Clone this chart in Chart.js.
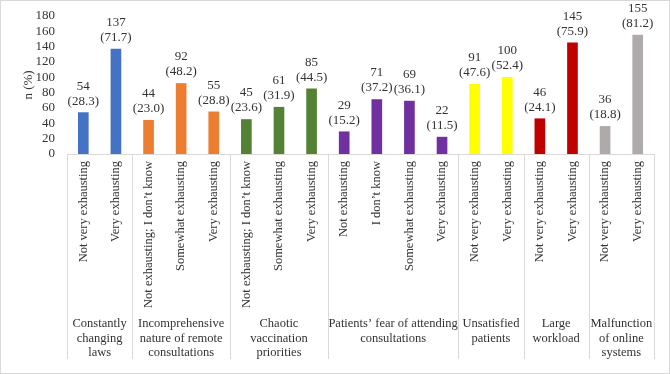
<!DOCTYPE html>
<html lang="en">
<head>
  <meta charset="utf-8">
  <title>Exhausting factors</title>
  <script src="https://cdn.jsdelivr.net/npm/chart.js@4/dist/chart.umd.min.js"></script>
  <style>
    html, body { margin: 0; padding: 0; background: #fff; }
    #wrap { position: relative; width: 670px; height: 374px; box-sizing: border-box; border: 1px solid #d9d9d9; }
  </style>
</head>
<body>
  <div id="wrap"><canvas id="mychart" width="668" height="372"></canvas></div>

  <script>
    // data
    var answers = [
      'Not very exhausting', 'Very exhausting',
      'Not exhausting; I don\u2019t know', 'Somewhat exhausting', 'Very exhausting',
      'Not exhausting; I don\u2019t know', 'Somewhat exhausting', 'Very exhausting',
      'Not exhausting', 'I don\u2019t know', 'Somewhat exhausting', 'Very exhausting',
      'Not very exhausting', 'Very exhausting',
      'Not very exhausting', 'Very exhausting',
      'Not very exhausting', 'Very exhausting'
    ];
    var counts = [54, 137, 44, 92, 55, 45, 61, 85, 29, 71, 69, 22, 91, 100, 46, 145, 36, 155];
    var percents = ['28.3', '71.7', '23.0', '48.2', '28.8', '23.6', '31.9', '44.5', '15.2', '37.2', '36.1', '11.5', '47.6', '52.4', '24.1', '75.9', '18.8', '81.2'];
    var groups = [
      ['Constantly', 'changing', 'laws'],
      ['Incomprehensive', 'nature of remote', 'consultations'],
      ['Chaotic', 'vaccination', 'priorities'],
      ['Patients\u2019 fear of attending', 'consultations'],
      ['Unsatisfied', 'patients'],
      ['Large', 'workload'],
      ['Malfunction', 'of online', 'systems']
    ];
    var groupSizes = [2, 3, 3, 4, 2, 2, 2];
    var groupColors = ['#4472C4', '#ED7D31', '#548235', '#7030A0', '#FFFF00', '#C00000', '#AEAAAA'];
    var yTicks = [0, 20, 40, 60, 80, 100, 120, 140, 160, 180];

    var serif = '"Liberation Serif", "Times New Roman", serif';
    var textColor = '#333333';
    var fs = 12.5;

    var barColors = [];
    groupSizes.forEach(function (n, g) {
      for (var k = 0; k < n; k++) barColors.push(groupColors[g]);
    });

    // value labels above each bar
    var valueLabels = {
      id: 'valueLabels',
      afterDatasetsDraw: function (chart) {
        var ctx = chart.ctx;
        var meta = chart.getDatasetMeta(0);
        ctx.save();
        ctx.font = '13px ' + serif;
        ctx.fillStyle = textColor;
        ctx.textAlign = 'center';
        ctx.textBaseline = 'bottom';
        meta.data.forEach(function (bar, i) {
          ctx.fillText('(' + percents[i] + ')', bar.x, bar.y - 5);
          ctx.fillText(String(counts[i]), bar.x, bar.y - 20);
        });
        ctx.restore();
      }
    };

    // group separators and group names under the axis
    var groupAxis = {
      id: 'groupAxis',
      afterDraw: function (chart) {
        var ctx = chart.ctx;
        var x = chart.scales.x;
        var area = chart.chartArea;
        var half = (x.getPixelForValue(1) - x.getPixelForValue(0)) / 2;
        ctx.save();
        ctx.strokeStyle = '#d9d9d9';
        ctx.lineWidth = 1;
        // axis line
        ctx.beginPath();
        ctx.moveTo(area.left, area.bottom + 0.5);
        ctx.lineTo(area.right, area.bottom + 0.5);
        ctx.stroke();

        ctx.font = fs + 'px ' + serif;
        ctx.fillStyle = textColor;
        ctx.textAlign = 'center';
        ctx.textBaseline = 'middle';
        var start = 0;
        groupSizes.forEach(function (n, g) {
          var left = x.getPixelForValue(start) - half;
          var right = x.getPixelForValue(start + n - 1) + half;
          ctx.beginPath();
          ctx.moveTo(Math.round(left) + 0.5, area.bottom);
          ctx.lineTo(Math.round(left) + 0.5, 358);
          ctx.stroke();
          if (g === groupSizes.length - 1) {
            ctx.beginPath();
            ctx.moveTo(Math.round(right) + 0.5, area.bottom);
            ctx.lineTo(Math.round(right) + 0.5, 358);
            ctx.stroke();
          }
          var cx = (left + right) / 2;
          groups[g].forEach(function (line, j) {
            ctx.fillText(line, cx, 323 + j * 14.5);
          });
          start += n;
        });
        ctx.restore();
      }
    };

    var ctx = document.getElementById('mychart').getContext('2d');
    var chart = new Chart(ctx, {
      type: 'bar',
      data: {
        labels: answers,
        datasets: [{
          data: counts,
          backgroundColor: barColors,
          barThickness: 10
        }]
      },
      options: {
        responsive: false,
        animation: false,
        layout: { padding: { top: 15, right: 15, bottom: 0, left: 0 } },
        plugins: {
          legend: { display: false },
          tooltip: { enabled: false }
        },
        scales: {
          x: {
            grid: { display: false, drawTicks: false },
            border: { display: false },
            ticks: {
              autoSkip: false,
              minRotation: 90,
              maxRotation: 90,
              padding: 7,
              color: textColor,
              font: { family: serif, size: fs }
            },
            afterFit: function (scale) { scale.height = 219; }
          },
          y: {
            min: 0,
            max: 180,
            afterBuildTicks: function (scale) {
              scale.ticks = yTicks.map(function (v) { return { value: v }; });
            },
            grid: { display: false, drawTicks: true, tickLength: 10 },
            border: { display: false },
            ticks: {
              autoSkip: false,
              padding: 2,
              color: textColor,
              font: { family: serif, size: 13 }
            },
            title: {
              display: true,
              text: 'n (%)',
              color: textColor,
              padding: { top: 20, bottom: 0 },
              font: { family: serif, size: 13 }
            },
            afterFit: function (scale) { scale.width = 66; }
          }
        }
      },
      plugins: [valueLabels, groupAxis]
    });
  </script>
</body>
</html>
